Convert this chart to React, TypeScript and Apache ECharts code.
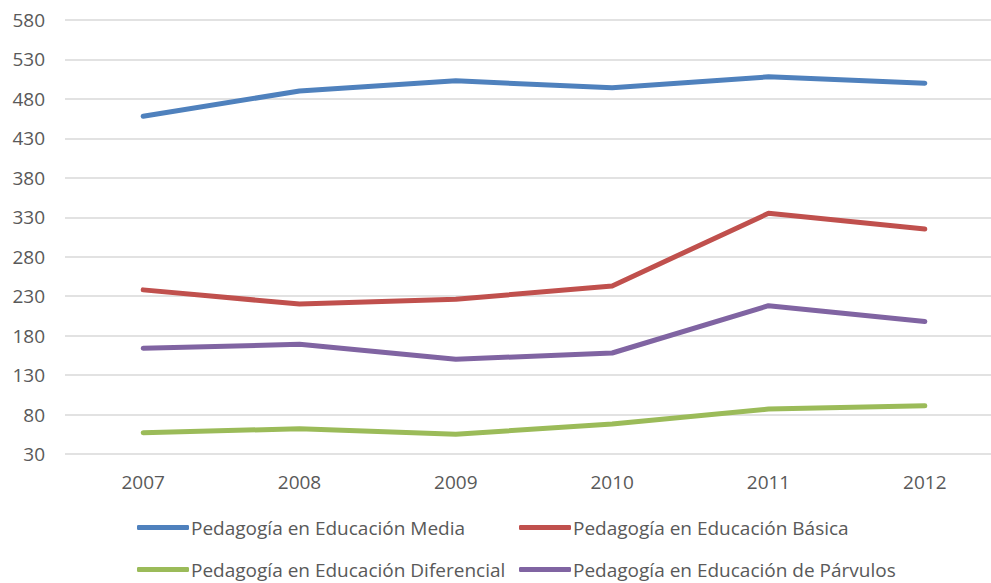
import React, { useEffect, useRef } from "react";
import * as echarts from "echarts";

const years = ["2007", "2008", "2009", "2010", "2011", "2012"];
const seriesNames = [
  "Pedagogía en Educación Media",
  "Pedagogía en Educación Básica",
  "Pedagogía en Educación Diferencial",
  "Pedagogía en Educación de Párvulos",
];
const media = [458, 490, 503, 494, 508, 500];
const basica = [238, 220, 226, 243, 335, 315];
const diferencial = [57, 62, 55, 68, 87, 91];
const parvulos = [164, 169, 150, 158, 218, 198];
const colors = ["#4f81bd", "#c0504d", "#9bbb59", "#8064a2"];

const FONT = "Open Sans";

export default function App() {
  const ref = useRef<HTMLDivElement>(null);
  useEffect(() => {
    document.body.style.margin = "0";
    const chart = echarts.init(ref.current!, undefined, { renderer: "svg" });
    const values = [media, basica, diferencial, parvulos];
    const legendPos = [
      { left: 137, top: 518 },
      { left: 519, top: 518 },
      { left: 137, top: 560 },
      { left: 519, top: 560 },
    ];
    chart.setOption({
      animation: false,
      color: colors,
      grid: {
        left: 65,
        top: 20,
        right: -12,
        bottom: 129,
        containLabel: false,
        outerBoundsMode: "none",
      },
      xAxis: {
        type: "category",
        data: years,
        boundaryGap: true,
        axisLine: { show: false },
        axisTick: { show: false },
        axisLabel: { color: "#595959", fontSize: 19, fontFamily: FONT, margin: 18 },
      },
      yAxis: {
        type: "value",
        min: 30,
        max: 580,
        interval: 50,
        axisLine: { show: false },
        axisTick: { show: false },
        axisLabel: { color: "#595959", fontSize: 19, fontFamily: FONT, margin: 20 },
        splitLine: { lineStyle: { color: "#d9d9d9", width: 1.5 } },
      },
      legend: seriesNames.map((n, i) => ({
        data: [n],
        left: legendPos[i].left,
        top: legendPos[i].top,
        itemWidth: 52,
        itemHeight: 5,
        icon: "roundRect",
        selectedMode: false,
        padding: 0,
        textStyle: { color: "#595959", fontSize: 19, fontFamily: FONT, padding: [0, 0, 0, -3] },
      })),
      series: seriesNames.map((n, i) => ({
        name: n,
        type: "line",
        data: values[i],
        symbol: "none",
        lineStyle: { width: 5, color: colors[i], cap: "round", join: "round" },
        itemStyle: { color: colors[i] },
      })),
    });
    return () => chart.dispose();
  }, []);
  return <div ref={ref} style={{ width: 991, height: 583 }} />;
}
